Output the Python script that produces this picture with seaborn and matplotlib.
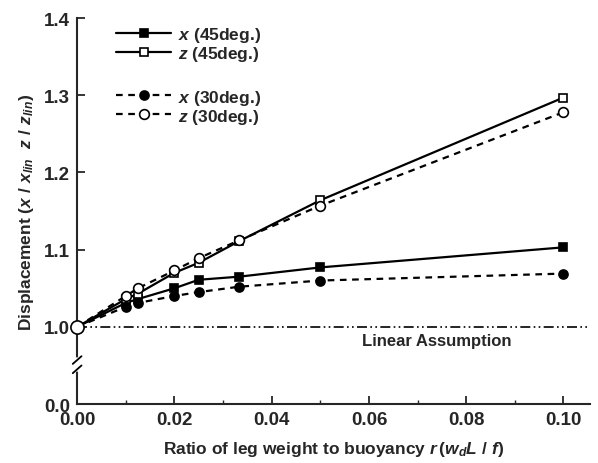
import numpy as np
import pandas as pd
import seaborn as sns
import matplotlib
matplotlib.use("Agg")
import matplotlib.pyplot as plt

r = [0.0, 0.01, 0.0125, 0.02, 0.025, 0.0333, 0.05, 0.10]
x45 = [1.0, 1.031, 1.036, 1.050, 1.061, 1.065, 1.077, 1.103]
z45 = [1.0, 1.036, 1.043, 1.070, 1.083, 1.111, 1.164, 1.297]
x30 = [1.0, 1.026, 1.031, 1.040, 1.045, 1.052, 1.060, 1.069]
z30 = [1.0, 1.040, 1.050, 1.073, 1.089, 1.112, 1.157, 1.278]

series = {
    r"$x$ (45deg.)": x45,
    r"$z$ (45deg.)": z45,
    r"$x$ (30deg.)": x30,
    r"$z$ (30deg.)": z30,
}

sns.set_style("ticks")
plt.rcParams['font.family'] = ['Liberation Sans', 'DejaVu Sans']
plt.rcParams['mathtext.fontset'] = 'custom'
plt.rcParams['mathtext.it'] = 'Liberation Sans:italic:bold'
plt.rcParams['mathtext.rm'] = 'Liberation Sans:bold'

fig = plt.figure(figsize=(5.98, 4.64), dpi=100)
ax = fig.add_axes([0.129, 0.127, 0.858, 0.832])

styles = {
    r"$x$ (45deg.)": dict(marker='s', ls='-', mfc='black', ms=5.5),
    r"$z$ (45deg.)": dict(marker='s', ls='-', mfc='white', ms=6),
    r"$x$ (30deg.)": dict(marker='o', ls=(0, (3, 2.5)), mfc='black', ms=6.5),
    r"$z$ (30deg.)": dict(marker='o', ls=(0, (3, 2.5)), mfc='white', ms=7),
}

# Linear assumption line
ax.plot([0, 0.1055], [1.0, 1.0], color='black', lw=1.2,
        ls=(0, (6, 2, 1, 2, 1, 2)), zorder=1)
ax.text(0.074, 0.982, "Linear Assumption", ha='center', va='center',
        fontsize=12, fontweight='bold')

handles = {}
for name, vals in series.items():
    df = pd.DataFrame({"r": r, "d": vals})
    st = styles[name]
    sns.lineplot(data=df, x="r", y="d", ax=ax, color='black', lw=1.6,
                 linestyle=st['ls'], marker=st['marker'], markersize=st['ms'],
                 markerfacecolor=st['mfc'], markeredgecolor='black',
                 markeredgewidth=1.2, label=name, legend=False, zorder=3)
    handles[name] = ax.lines[-1]

# origin marker (common point of all series)
ax.plot([r[0]], [z30[0]], marker='o', ms=9.5, mfc='white', mec='black',
        mew=1.2, ls='none', zorder=4, clip_on=False)

ax.set_xlim(0, 0.1055)
ax.set_ylim(0.9, 1.4)
ax.set_xticks([0.0, 0.02, 0.04, 0.06, 0.08, 0.10])
ax.set_xticklabels(["0.00", "0.02", "0.04", "0.06", "0.08", "0.10"])
ax.set_xticks([0.01, 0.03, 0.05, 0.07, 0.09], minor=True)
ax.set_yticks([0.9, 1.0, 1.1, 1.2, 1.3, 1.4])
ax.set_yticklabels(["0.0", "1.0", "1.1", "1.2", "1.3", "1.4"])
ax.tick_params(axis='both', which='major', direction='in', length=6, width=1.3,
               labelsize=13.5, pad=5)
ax.tick_params(axis='x', which='minor', direction='in', length=3, width=1.0)
for lab in ax.get_xticklabels() + ax.get_yticklabels():
    lab.set_fontweight('bold')

sns.despine(ax=ax)
for s in ['left', 'bottom']:
    ax.spines[s].set_linewidth(1.5)

# axis break marks on y-axis
ax.plot([0, 0], [0.945, 0.957], color='white', lw=4, clip_on=False, zorder=5)
for yb in [0.945, 0.957]:
    ax.plot([-0.0009, 0.0009], [yb - 0.005, yb + 0.005], color='black', lw=1.3,
            clip_on=False, zorder=6)

ax.set_xlabel(r"Ratio of leg weight to buoyancy $r\,(w_dL\ /\ f)$", fontsize=12.5,
              fontweight='bold', labelpad=8)
ax.set_ylabel(r"Displacement $(x\ /\ x_{lin}\ \ z\ /\ z_{lin})$", fontsize=12.5,
              fontweight='bold', labelpad=6)

names = list(series.keys())
leg_kw = dict(loc='upper left', frameon=False, handlelength=3.2, labelspacing=0.0,
              handletextpad=0.35, prop={'weight': 'bold', 'size': 12.5},
              borderaxespad=0)
leg1 = ax.legend([handles[names[0]], handles[names[1]]], names[:2],
                 bbox_to_anchor=(0.062, 1.0), **leg_kw)
ax.add_artist(leg1)
leg2 = ax.legend([handles[names[2]], handles[names[3]]], names[2:],
                 bbox_to_anchor=(0.062, 0.838), **leg_kw)

fig.savefig("out.png", dpi=100)
